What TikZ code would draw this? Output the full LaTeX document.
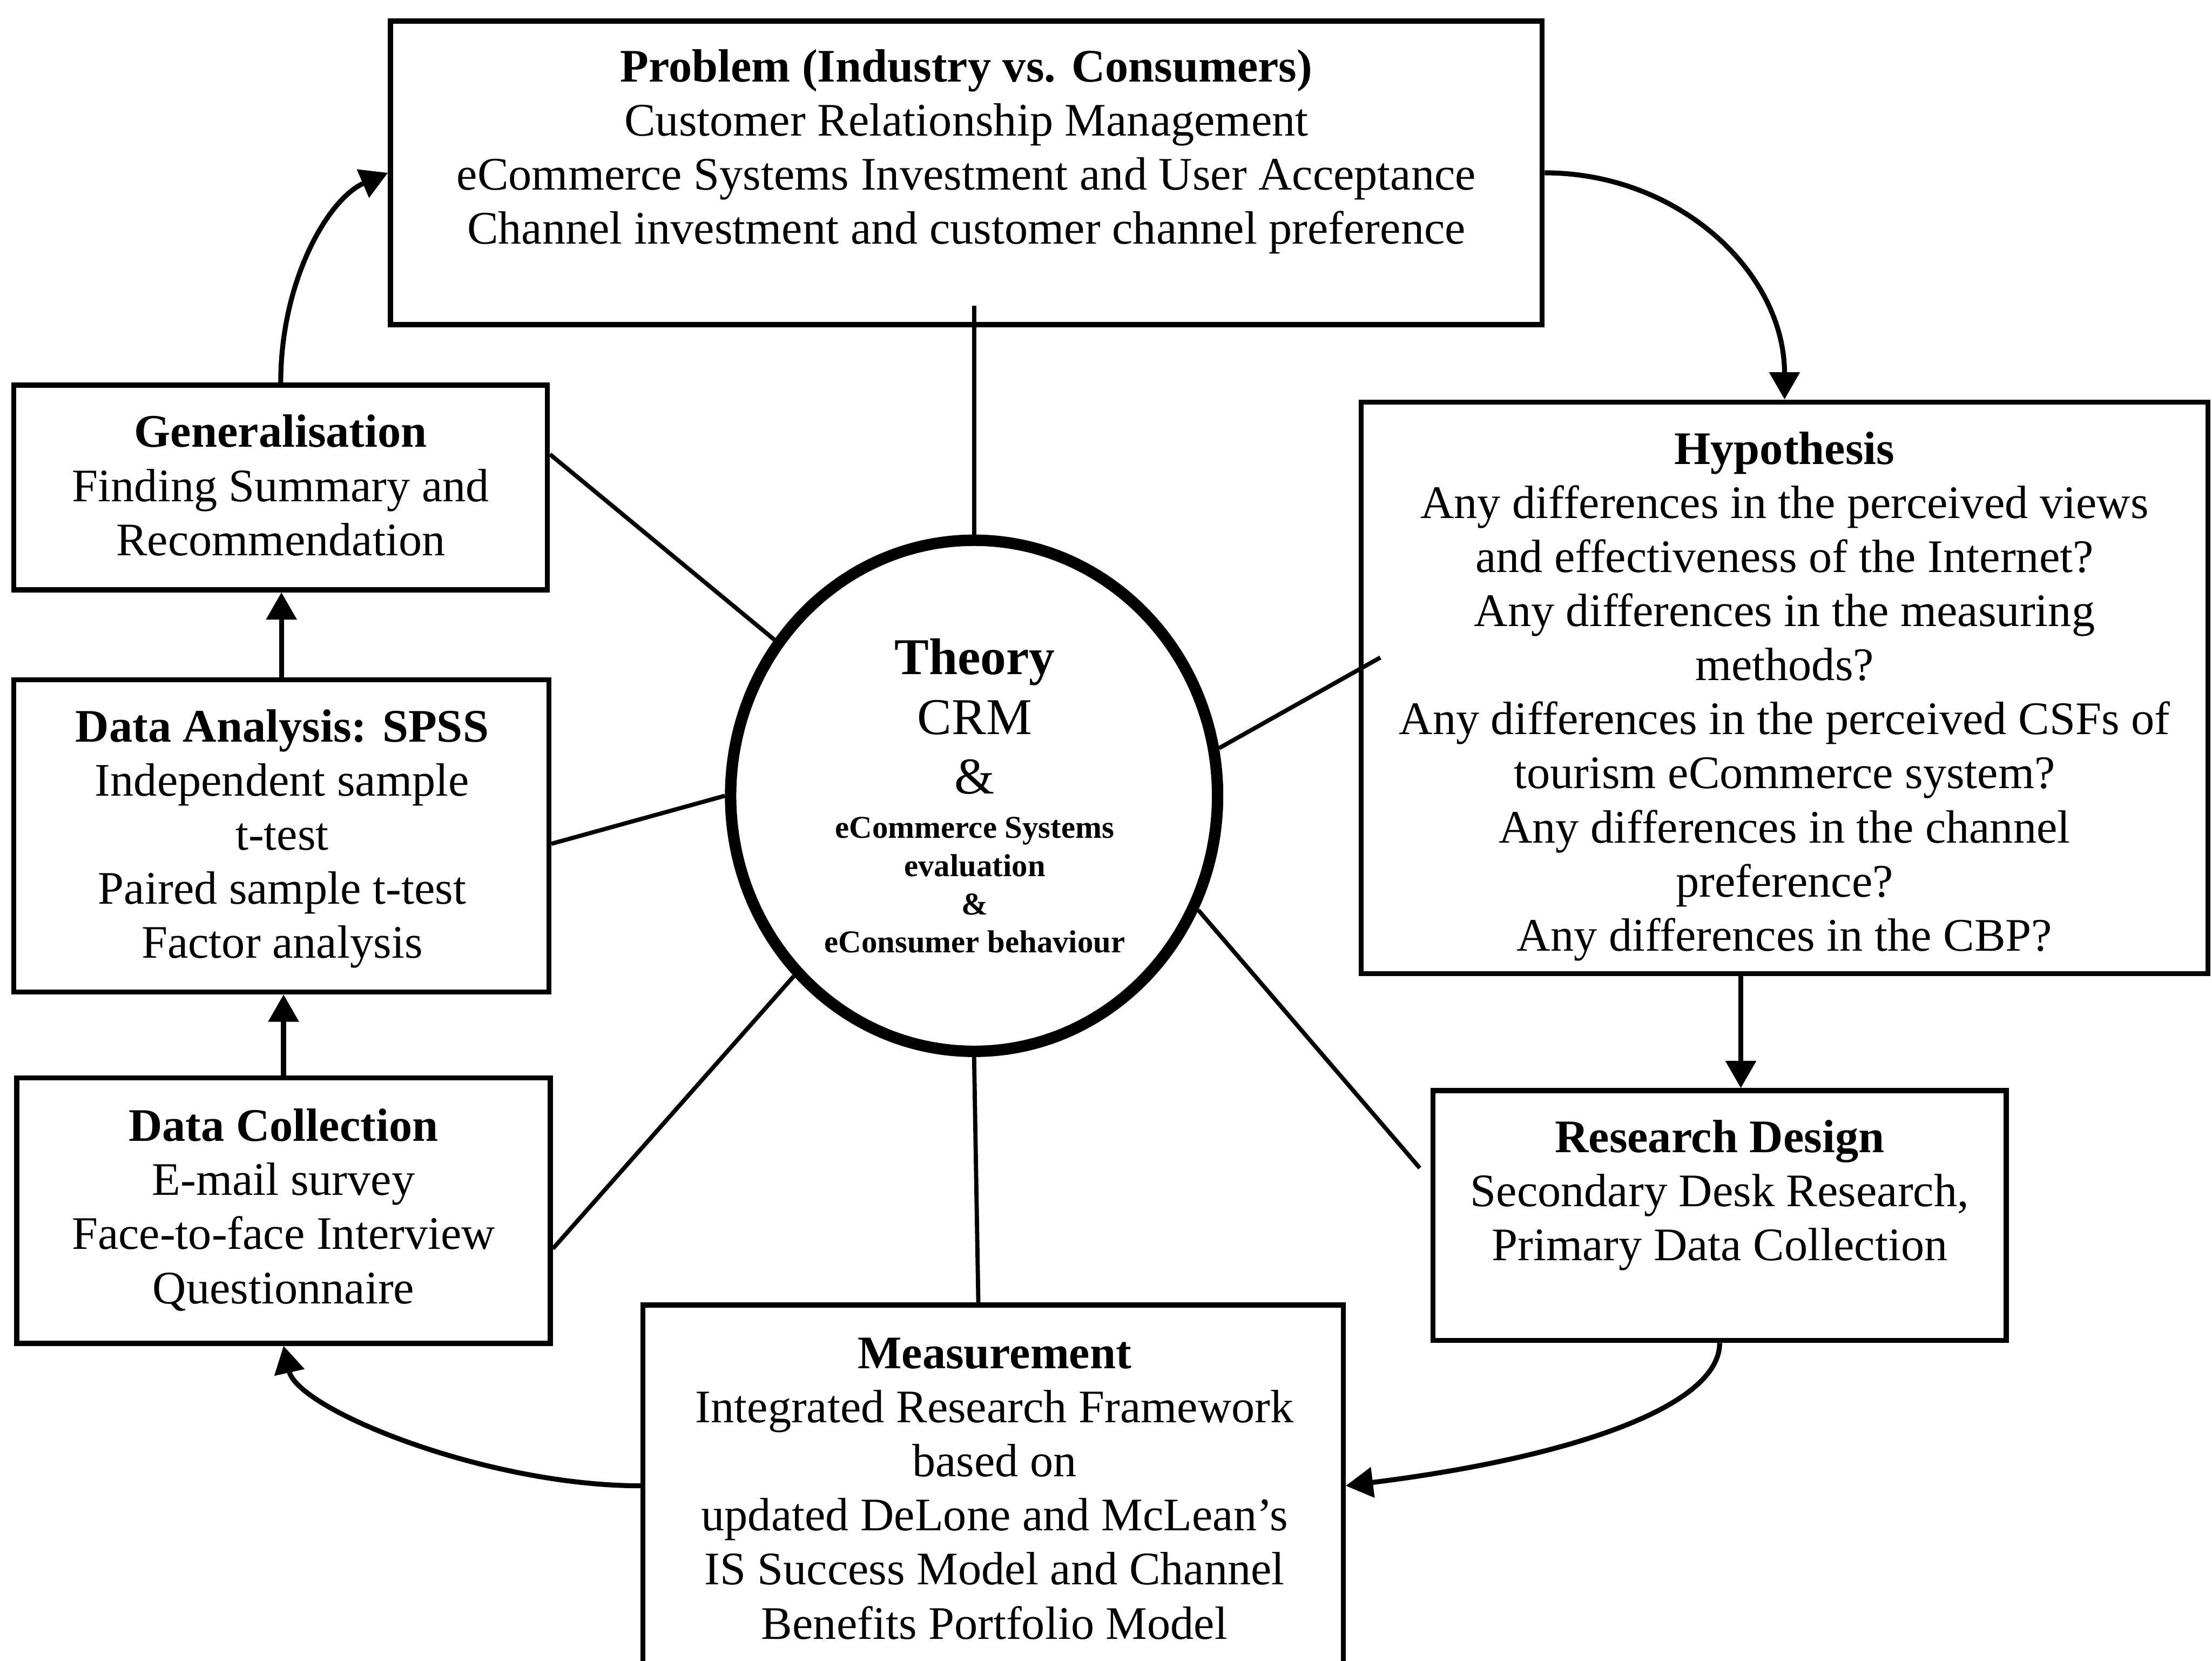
\documentclass[tikz,border=0pt]{standalone}
\usepackage{fontspec}
\setmainfont{Liberation Serif}
\usetikzlibrary{arrows.meta,shapes.geometric,calc}

\begin{document}
\begin{tikzpicture}[x=0.01cm,y=-0.01cm,
  box/.style={draw,line width=1pt,rectangle,inner sep=0pt},
  txt/.style={align=center,inner sep=0pt,font=\fontsize{9.4}{10.9}\selectfont},
  spoke/.style={line width=0.85pt},
  arr/.style={line width=1pt,-{Triangle[length=5.5pt,width=6pt]}},
]
\useasboundingbox (0,0) rectangle (1568,1177);
\clip (0,0) rectangle (1568,1177);

% frames
\node[box,minimum width=8.16cm,minimum height=2.15cm] (prob) at (685,122.5) {};
\node[box,minimum width=3.78cm,minimum height=1.45cm] (gen)  at (199,345.5) {};
\node[box,minimum width=3.79cm,minimum height=2.21cm] (da)   at (199.5,592.5) {};
\node[box,minimum width=3.78cm,minimum height=1.88cm] (dc)   at (201,858) {};
\node[box,minimum width=6.00cm,minimum height=4.05cm] (hyp)  at (1265,487.5) {};
\node[box,minimum width=4.06cm,minimum height=1.77cm] (rd)   at (1219,861.5) {};
\node[box,minimum width=4.96cm,minimum height=3.25cm] (meas) at (704,1087.5) {};
\node[draw,ellipse,line width=2.3pt,inner sep=0pt,
      minimum width=3.45cm,minimum height=3.62cm] (circ) at (690.5,564) {};

% texts
\node[txt] (probT) at (685,107.5) {\textbf{Problem (Industry vs. Consumers)}\\
  Customer Relationship Management\\
  eCommerce Systems Investment and User Acceptance\\
  Channel investment and customer channel preference};
\node[txt] (genT) at (199,344) {\textbf{Generalisation}\\ Finding Summary and\\ Recommendation};
\node[txt] (daT) at (200,594.5) {\textbf{Data Analysis: SPSS}\\ Independent sample\\ t-test\\
  Paired sample t-test\\ Factor analysis};
\node[txt] (dcT) at (201,857.5) {\textbf{Data Collection}\\ E-mail survey\\
  Face-to-face Interview\\ Questionnaire};
\node[txt] (hypT) at (1265,493.5) {\textbf{Hypothesis}\\
  Any differences in the perceived views\\
  and effectiveness of the Internet?\\
  Any differences in the measuring\\
  methods?\\
  Any differences in the perceived CSFs of\\
  tourism eCommerce system?\\
  Any differences in the channel\\
  preference?\\
  Any differences in the CBP?};
\node[txt] (rdT) at (1219,847) {\textbf{Research Design}\\ Secondary Desk Research,\\ Primary Data Collection};
\node[txt] (measT) at (705,1055) {\textbf{Measurement}\\ Integrated Research Framework\\ based on\\
  updated DeLone and McLean’s\\ IS Success Model and Channel\\ Benefits Portfolio Model};
\node[align=center,inner sep=0pt,
      font=\fontsize{6.4}{7.7}\selectfont\bfseries] (circT) at (691,564)
  {\lineskiplimit=-30pt\relax
   {\fontsize{10.4}{7.7}\selectfont Theory}\\[2pt]
   {\fontsize{10.4}{7.7}\selectfont\mdseries CRM}\\[4.25pt]
   {\fontsize{10.4}{7.7}\selectfont\mdseries \&}\\[1.26pt]
   eCommerce Systems\\ evaluation\\ \&\\ eConsumer behaviour};

% spokes from the theory circle
\draw[spoke] (circ.north) -- ($(circ.north |- prob.south)+(0,-15)$);
\draw[spoke] (circ.142) -- ($(gen.east)+(0,-23.5)$);
\draw[spoke] (circ.180) -- ($(da.east)+(0,5.5)$);
\draw[spoke] (circ.225) -- ($(dc.east)+(0,27)$);
\draw[spoke] (circ.south) -- ($(circ.south |- meas.north)+(3,0)$);
\draw[spoke] (circ.333) -- ($(rd.west)+(-7.7,-33.7)$);
\draw[spoke] (circ.11) -- ($(hyp.west)+(15.4,-21.5)$);

% research cycle
\coordinate (hr) at (1234,0);
\coordinate (mr) at (0,1053);
\draw[arr] (gen.north) .. controls +(0,-73) and +(-42,18) .. (prob.west);
\draw[arr] (prob.east) .. controls +(95,0) and +(0,-90) .. (hyp.north);
\draw[arr] (hyp.south -| hr) -- (rd.north -| hr);
\draw[arr] (rd.south) .. controls +(0,45) and +(160,-20) .. (meas.east |- mr);
\draw[arr] (meas.west |- mr) .. controls +(-110,0) and +(10,45) .. (dc.south);
\draw[arr] (dc.north) -- (da.south -| dc.north);
\draw[arr] (da.north) -- (gen.south -| da.north);
\end{tikzpicture}
\end{document}
